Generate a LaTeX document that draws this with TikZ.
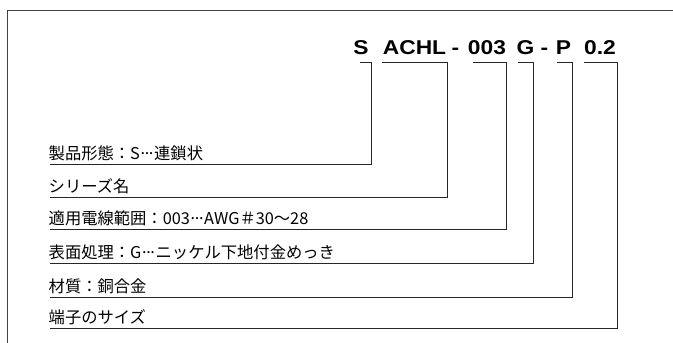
\documentclass[tikz,border=0pt]{standalone}
\usepackage{fontspec}
\setmainfont{Liberation Sans}
\newfontfamily\jpfont{Noto Sans CJK JP}
\newcommand{\hdrtxt}[1]{\scalebox{1.14}[1]{#1}}
\newcommand{\mdots}{\raisebox{0.3em}{\kern0.04em.\kern-0.02em.\kern-0.02em.\kern0.04em}}
\begin{document}
\begin{tikzpicture}[x=1pt,y=-1pt,
  hdr/.style={font=\fontsize{20}{20}\selectfont\bfseries, inner sep=0pt, anchor=base},
  lab/.style={font=\jpfont\fontsize{16.3}{17}\selectfont, inner sep=0pt, anchor=base west},
  conn/.style={line width=0.8pt, draw=black!85},
  frame/.style={line width=0.8pt, draw=black!75}]
\useasboundingbox (0,0) rectangle (673,343);
% frame
\coordinate (fTR) at (673,10);
\coordinate (fTL) at (7,10);
\coordinate (fBL) at (7,343);
\draw[frame] (fTR) -- (fTL) -- (fBL);
% header
\node[hdr] (hS)  at (361,54) {\hdrtxt{S}};
\node[hdr] (hA)  at (414.5,54) {\hdrtxt{ACHL}};
\node[hdr] (hd1) at (455.5,54) {\hdrtxt{-}};
\node[hdr] (h3)  at (487,54) {\hdrtxt{003}};
\node[hdr] (hG)  at (525.5,54) {\hdrtxt{G}};
\node[hdr] (hd2) at (544.5,54) {\hdrtxt{-}};
\node[hdr] (hP)  at (563.5,54) {\hdrtxt{P}};
\node[hdr] (h02) at (600,54) {\hdrtxt{0.2}};
% labels
\node[lab] (l1) at (48.5,159) {製品形態：S\mdots 連鎖状};
\node[lab] (l2) at (48.5,192) {シリーズ名};
\node[lab] (l3) at (48.5,224) {適用電線範囲：003\mdots AWG＃30～28};
\node[lab] (l4) at (48.5,258) {表面処理：G\mdots ニッケル下地付金めっき};
\node[lab] (l5) at (48.5,292) {材質：銅合金};
\node[lab] (l6) at (48.5,323) {端子のサイズ};
% bracket coordinates
\coordinate (s1) at (360,62);  \coordinate (c1) at (371,62);  \coordinate (e1) at (50,164);
\coordinate (s2) at (382,62);  \coordinate (c2) at (447,62);  \coordinate (e2) at (50,197);
\coordinate (s3) at (473,62);  \coordinate (c3) at (506,62);  \coordinate (e3) at (50,229);
\coordinate (s4) at (518,62);  \coordinate (c4) at (533,62);  \coordinate (e4) at (50,263);
\coordinate (s5) at (557,62);  \coordinate (c5) at (572,62);  \coordinate (e5) at (50,297);
\coordinate (s6) at (584,62);  \coordinate (c6) at (617,62);  \coordinate (e6) at (50,328);
\draw[conn] (s1) -- (c1) |- (e1);
\draw[conn] (s2) -- (c2) |- (e2);
\draw[conn] (s3) -- (c3) |- (e3);
\draw[conn] (s4) -- (c4) |- (e4);
\draw[conn] (s5) -- (c5) |- (e5);
\draw[conn] (s6) -- (c6) |- (e6);
\end{tikzpicture}
\end{document}
